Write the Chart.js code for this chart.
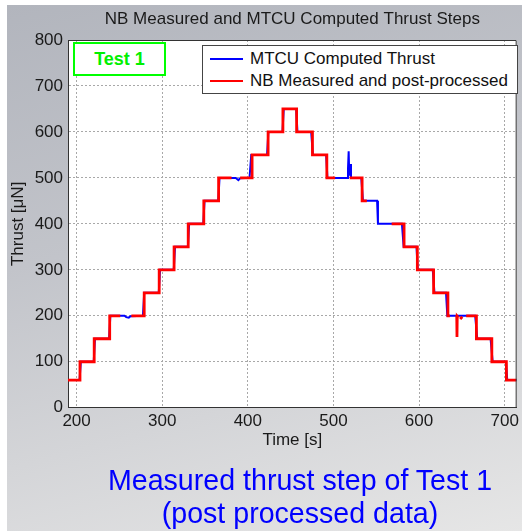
<!DOCTYPE html>
<html>
<head>
<meta charset="utf-8">
<script src="https://cdn.jsdelivr.net/npm/chart.js@4"></script>
<style>
  body { margin: 0; background: #fff; font-family: "Liberation Sans", Arial, sans-serif; }
  #bg {
    position: absolute; left: 7px; top: 5px; width: 515px; height: 526px;
    background: linear-gradient(165deg, #b2b5bd 0%, #c2c4ca 40%, #e6e6e6 100%);
  }
  #wrap { position: absolute; left: 0; top: 0; width: 522px; height: 531px; }
  #test {
    position: absolute; left: 73px; top: 42px; width: 89px; height: 30px;
    border: 2px solid #00ff00; background: #fff;
    color: #00f000; font-weight: bold; font-size: 18px; line-height: 30px; text-align: center;
  }
  #legend {
    position: absolute; left: 202px; top: 45px; width: 314px; height: 47px;
    border: 1px solid #444; background: #fff; font-size: 17px; color: #111;
  }
  #legend .row { position: absolute; left: 0; height: 22px; line-height: 22px; white-space: nowrap; }
  #legend .swatch { position: absolute; left: 7px; top: 10px; width: 33px; height: 2px; }
  #legend .label { position: absolute; left: 47px; top: 0; }
  #caption {
    position: absolute; left: 100px; top: 464px; width: 400px;
    color: #0000ff; font-size: 28.6px; line-height: 33px; text-align: center;
  }
</style>
</head>
<body>
<div id="bg"></div>
<div id="wrap"><canvas id="myChart" width="522" height="531"></canvas></div>
<div id="test">Test 1</div>
<div id="legend"></div>
<div id="caption">Measured thrust step of Test 1<br>(post processed data)</div>
<script>
// MTCU computed thrust (blue)
const mtcuTime = [190, 203.5, 205, 220, 221.5, 238, 239.5, 256, 258, 261, 263, 277.5,
  279, 296, 297.5, 313.5, 315, 330, 331.5, 348, 349.5, 365.5, 367, 386, 389, 391, 402,
  404, 422.5, 424, 440.5, 442, 456.5, 458, 474, 476, 491.5, 493, 516, 517, 517.8, 518.5,
  519.5, 520.5, 532.5, 534.5, 551, 552, 580, 582, 597, 598.5, 616, 618, 631.5, 633,
  665.5, 668, 683.5, 686, 701.5, 703, 714];
const mtcuThrust = [60, 60, 100, 100, 150, 150, 200, 200, 197, 196, 199, 200,
  250, 250, 300, 300, 350, 350, 400, 400, 450, 450, 500, 500, 495, 499, 500,
  550, 550, 600, 600, 650, 650, 600, 600, 550, 550, 500, 500, 520, 558, 505,
  530, 500, 500, 450, 450, 400, 400, 350, 350, 300, 300, 250, 250, 200,
  200, 150, 150, 100, 100, 60, 60];

// NB measured and post-processed thrust (red), null = gap
const nbTime = [190, 204, 204, 220.6, 220.6, 238.7, 238.7, 251, 251, 264, 279,
  279, 296.5, 296.5, 313.9, 313.9, 330.4, 330.4, 348.6, 348.6, 365.9, 365.9, 381, 381,
  391, 405, 405, 423.7, 423.7, 441, 441, 457, 457, 475.5, 475.5, 492.3, 492.3, 502, 502,
  519, 533.5, 533.5, 539, 539, 568, 582.5, 582.5, 598, 598, 617, 617, 633.7, 633.7, 636, 636,
  644, 644.3, 644.6, 646, 646, 648, 650.5, 650.5, 655, 667, 667, 685, 685, 702, 702, 714];
const nbThrust = [60, 60, 100, 100, 150, 150, 200, 200, null, 200, 200,
  250, 250, 300, 300, 350, 350, 400, 400, 450, 450, 500, 500, null,
  500, 500, 550, 550, 600, 600, 650, 650, 600, 600, 550, 550, 500, 500, null,
  500, 500, 450, 450, null, 400, 400, 350, 350, 300, 300, 250, 250, 200, 200, null,
  201, 154, 199, 196, null, 193, 198, null, 200, 200, 150, 150, 100, 100, 60, 60];

const seriesLabels = ['MTCU Computed Thrust', 'NB Measured and post-processed'];
const seriesColors = ['#0000ff', '#ff0000'];
const xTicks = [200, 300, 400, 500, 600, 700];
const yTicks = [0, 100, 200, 300, 400, 500, 600, 700, 800];

const FONT = '"Liberation Sans", Arial, sans-serif';

// white plot area and the box around it
const plotBox = {
  id: 'plotBox',
  beforeDraw(chart) {
    const a = chart.chartArea;
    chart.ctx.save();
    chart.ctx.fillStyle = '#fff';
    chart.ctx.fillRect(a.left, a.top, a.right - a.left, a.bottom - a.top);
    chart.ctx.restore();
  },
  afterDraw(chart) {
    const a = chart.chartArea, ctx = chart.ctx;
    ctx.save();
    ctx.strokeStyle = '#333';
    ctx.lineWidth = 1;
    ctx.beginPath();
    ctx.moveTo(a.left, a.top + 0.5);
    ctx.lineTo(a.right - 0.5, a.top + 0.5);
    ctx.lineTo(a.right - 0.5, a.bottom);
    ctx.stroke();
    ctx.restore();
  }
};

const ctx = document.getElementById('myChart').getContext('2d');
const thrustChart = new Chart(ctx, {
  type: 'line',
  data: {
    datasets: [{
      label: seriesLabels[0],
      data: mtcuTime.map((t, i) => ({ x: t, y: mtcuThrust[i] })),
      borderColor: seriesColors[0],
      borderWidth: 2,
      order: 2
    }, {
      label: seriesLabels[1],
      data: nbTime.map((t, i) => ({ x: t, y: nbThrust[i] })),
      borderColor: seriesColors[1],
      borderWidth: 2.8,
      order: 1
    }]
  },
  options: {
    responsive: false,
    animation: false,
    devicePixelRatio: 1,
    spanGaps: false,
    layout: { padding: { left: 0, right: 1, top: 0, bottom: 0 } },
    elements: { point: { radius: 0 }, line: { tension: 0, fill: false } },
    plugins: {
      legend: { display: false },
      tooltip: { enabled: false },
      title: {
        display: true,
        fullSize: false,
        text: 'NB Measured and MTCU Computed Thrust Steps',
        color: '#1a1a1a',
        font: { family: FONT, size: 17, weight: 'normal' },
        padding: { top: 9, bottom: 10.6 }
      }
    },
    scales: {
      x: {
        type: 'linear',
        min: 190,
        max: 714,
        afterBuildTicks: s => { s.ticks = xTicks.map(v => ({ value: v })); },
        afterFit: s => { s.height = 123.3; },
        ticks: { color: '#1a1a1a', padding: 3, font: { family: FONT, size: 17 } },
        grid: { color: '#a8a8a8', drawTicks: false },
        border: { color: '#333', dash: [2, 2] },
        title: {
          display: true, text: 'Time [s]', color: '#1a1a1a',
          font: { family: FONT, size: 17 }, padding: { top: 0, bottom: 80.8 }
        }
      },
      y: {
        min: 0,
        max: 800,
        afterBuildTicks: s => { s.ticks = yTicks.map(v => ({ value: v })); },
        afterFit: s => { s.width = 68; },
        ticks: { color: '#1a1a1a', padding: 5, font: { family: FONT, size: 17 } },
        grid: { color: '#a8a8a8', drawTicks: false },
        border: { color: '#333', dash: [2, 2] },
        title: {
          display: true, text: 'Thrust [μN]', color: '#1a1a1a',
          font: { family: FONT, size: 17 }, padding: { top: 8, bottom: 0 }
        }
      }
    }
  },
  plugins: [plotBox]
});

// legend drawn from the chart's datasets
const legendBox = document.getElementById('legend');
thrustChart.data.datasets.forEach((ds, i) => {
  const row = document.createElement('div');
  row.className = 'row';
  row.style.top = (2 + i * 22) + 'px';
  row.innerHTML = '<div class="swatch" style="background:' + ds.borderColor + '"></div>' +
    '<div class="label">' + ds.label + '</div>';
  legendBox.appendChild(row);
});
</script>
</body>
</html>
